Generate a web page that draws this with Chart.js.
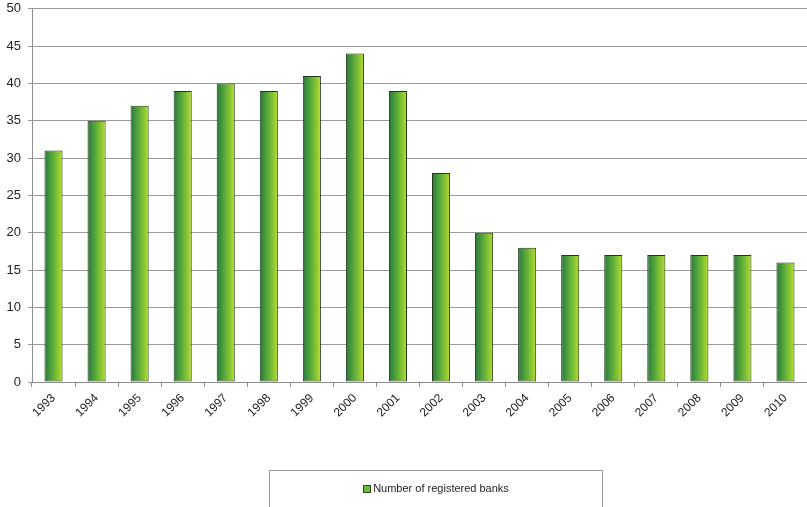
<!DOCTYPE html>
<html>
<head>
<meta charset="utf-8">
<script src="https://cdn.jsdelivr.net/npm/chart.js@4/dist/chart.umd.min.js"></script>
<style>
  html, body { margin: 0; padding: 0; background: #fff; }
  #wrap { position: relative; width: 807px; height: 507px; overflow: hidden; }
  #chart { position: absolute; left: 0; top: -6px; }
  #legend {
    position: absolute; left: 269px; top: 470px; width: 334px; height: 40px;
    border: 1px solid #9a9a9a; box-sizing: border-box;
    font: 11px "Liberation Sans", Arial, sans-serif; color: #222;
    text-align: center; line-height: 34px;
  }
  #legend span.box {
    display: inline-block; width: 6px; height: 6px; margin-right: 2px;
    background: #6cbf3a; border: 1px solid #2a4a1a; vertical-align: -1px;
  }
</style>
</head>
<body>
<div id="wrap">
  <canvas id="chart" width="807" height="513"></canvas>
  <div id="legend"><span class="box"></span>Number of registered banks</div>
</div>
<script>
(function() {
    'use strict';

    // values
    const YEARS = ['1993', '1994', '1995', '1996', '1997', '1998', '1999', '2000', '2001',
                   '2002', '2003', '2004', '2005', '2006', '2007', '2008', '2009', '2010'];
    const BANKS = [31, 35, 37, 39, 40, 39, 41, 44, 39, 28, 20, 18, 17, 17, 17, 17, 17, 16];
    const Y_MAX = 50;
    const Y_STEP = 5;
    const BAR_PCT = 0.42;

    // horizontal gradient per bar: dark green left edge to lime right edge
    function barFill(context) {
        const chart = context.chart;
        const xs = chart.scales.x;
        if (!xs || xs.width === undefined || context.dataIndex === undefined) return '#6cbf3a';
        const center = xs.getPixelForValue(context.dataIndex);
        const w = (xs.width / YEARS.length) * BAR_PCT;
        const g = chart.ctx.createLinearGradient(center - w / 2, 0, center + w / 2, 0);
        g.addColorStop(0, '#2a763d');
        g.addColorStop(0.45, '#5aab3b');
        g.addColorStop(1, '#b6dd2c');
        return g;
    }

    new Chart(document.getElementById('chart'), {
        type: 'bar',
        data: {
            labels: YEARS,
            datasets: [{
                label: 'Number of registered banks',
                data: BANKS,
                backgroundColor: barFill,
                borderColor: '#1f3a18',
                borderWidth: 1,
                borderSkipped: false,
                categoryPercentage: 1,
                barPercentage: BAR_PCT
            }]
        },
        options: {
            responsive: false,
            animation: false,
            layout: { padding: { top: 2, right: 0, left: 0, bottom: 0 } },
            plugins: {
                legend: { display: false },
                tooltip: { enabled: false }
            },
            scales: {
                x: {
                    grid: {
                        drawOnChartArea: false,
                        drawTicks: true,
                        tickLength: 5,
                        color: '#8c8c8c'
                    },
                    border: { color: '#8c8c8c' },
                    ticks: {
                        color: '#222',
                        font: { family: '"Liberation Sans", Arial, sans-serif', size: 12 },
                        minRotation: 45,
                        maxRotation: 45,
                        padding: 4
                    },
                    afterFit: function(scale) { scale.height = 125; }
                },
                y: {
                    min: 0,
                    max: Y_MAX,
                    ticks: {
                        stepSize: Y_STEP,
                        color: '#222',
                        font: { family: '"Liberation Sans", Arial, sans-serif', size: 13 },
                        padding: 7
                    },
                    grid: {
                        color: '#9a9a9a',
                        tickLength: 4,
                        lineWidth: 1
                    },
                    border: { color: '#8c8c8c' },
                    afterFit: function(scale) { scale.width = 32; }
                }
            }
        }
    });
})();
</script>
</body>
</html>
